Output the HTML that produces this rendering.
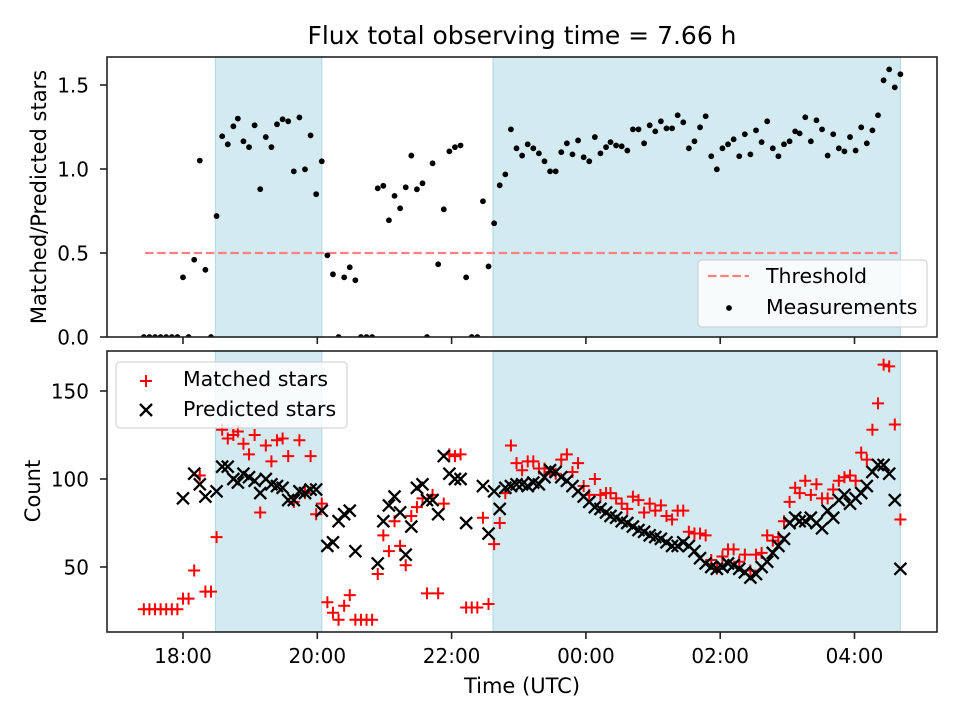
<!DOCTYPE html>
<html><head><meta charset="utf-8"><style>
html,body{margin:0;padding:0;background:#fff;}
svg{display:block;font-family:"DejaVu Sans","Liberation Sans",sans-serif;}
</style></head><body>
<svg id="chart" width="960" height="720" viewBox="0 0 960 720">
</svg>
<script>
// minutes relative to 18:00 UTC
const times=[-35,-30,-25,-20,-15,-10,-5,0,5,10,15,20,25,30,35,40,45,49,54,59,64,69,74,79,84,89,94,99,104,109,114,119,124,129,134,139,144,149,154,159,164,169,174,179,184,189,194,199,204,209,214,218,223,228,233,238,243,248,253,258,263,268,273,278,283,288,293,298,303,308,313,318,323,328,333,338,343,348,353,358,363,368,373,378,382,387,392,397,402,407,412,417,422,427,432,437,442,447,452,457,462,467,472,477,482,487,492,497,502,507,512,517,522,527,532,537,542,547,551,556,561,566,571,576,581,586,591,596,601,606,611,616,621,626,631,636,641];
const ratio=[0,0,0,0,0,0,0,.355,0,.46,1.05,.40,0,.72,1.195,1.147,1.254,1.30,1.165,1.13,1.26,.88,1.19,1.13,1.266,1.296,1.284,.986,1.307,.998,1.20,.85,1.046,.486,.373,0,.355,.415,.338,0,0,0,.885,.90,.695,.84,.766,.891,1.08,.879,.915,0,1.034,.433,.76,1.105,1.13,1.14,.355,0,0,.808,.42,.677,.903,.968,1.236,1.123,1.08,1.147,1.123,1.093,1.046,.986,.986,1.10,1.153,1.087,1.17,1.07,1.046,1.19,1.093,1.13,1.16,1.14,1.135,1.11,1.236,1.236,1.153,1.26,1.224,1.284,1.242,1.242,1.32,1.278,1.123,1.165,1.248,1.314,1.076,.998,1.123,1.147,1.177,1.076,1.207,1.087,1.23,1.16,1.284,1.123,1.076,1.147,1.165,1.224,1.212,1.308,1.165,1.29,1.236,1.08,1.207,1.123,1.105,1.19,1.11,1.248,1.153,1.23,1.32,1.528,1.593,1.486,1.564];
const matched=[26,26,26,26,26,26,26,32,32,48,102,36,36,67,128,123,125,127,120,114,125,81,119,110,122,123,113,87,122,92,113,80,86,30,24,20,28,34,20,20,20,20,46,68,59,76,62,51,79,84,89,35,91,35,86,114,113,114,27,27,27,78,29,63,75,92,119,109,105,110,110,106,106,104,103,111,114,104,109,96,91,100,91,92,92,89,86,83,90,88,81,86,82,85,79,77,82,82,70,69,69,68,54,49,56,60,60,53,57,48,57,58,68,65,67,76,87,95,92,99,91,97,89,89,94,99,101,102,99,115,111,128,143,165,164,131,77];
const predicted=[null,null,null,null,null,null,null,89,null,103,97,90,null,93,107,107,100,98,103,101,99,92,100,97,96,95,88,88,93,92,94,94,82,62,64,76,80,82,59,null,null,null,52,76,85,90,81,57,73,95,97,88,88,80,113,103,100,100,75,null,null,96,69,93,83,95,96,97,97,96,98,97,101,105,104,101,99,96,93,90,87,84,83,81,79,78,76,75,73,71,70,68,67,66,64,62,62,64,62,59,55,52,50,49,50,52,51,49,47,44,46,50,53,58,62,66,75,78,76,76,78,75,72,82,78,88,91,86,89,92,96,104,108,108,103,88,49];
const xTicks=[0,120,240,360,480,600];
const xTickLabels=["18:00","20:00","22:00","00:00","02:00","04:00"];
const topTicks=[0,0.5,1.0,1.5];
const topTickLabels=["0.0","0.5","1.0","1.5"];
const botTicks=[50,100,150];
const botTickLabels=["50","100","150"];
const spanStarts=[29,277];
const spanEnds=[124,641];
const threshold=[0.5];
const thrStart=[-34], thrEnd=[641];

const NS="http://www.w3.org/2000/svg";
const svg=document.getElementById('chart');
function mk(tag,attrs,parent){const e=document.createElementNS(NS,tag);for(const k in attrs)e.setAttribute(k,attrs[k]);(parent||svg).appendChild(e);return e;}
const L=107,R=937,T1=57,B1=337,T2=351,B2=632;
const pxPerMin=67.15/60, x0=183;
function X(m){return x0+m*pxPerMin;}
function Y1(v){return 337-v*168;}
function Y2(v){return 479-(v-100)*1.76;}
const TF=20, TL=7;

let t=mk('text',{x:522,y:44,'text-anchor':'middle','font-size':25,fill:'#000'});
t.textContent='Flux total observing time = 7.66 h';



function panel(top,bot,name){
  const g=mk('g',{});
  
  
  const cp=mk('clipPath',{id:'cp-'+name},g);
  mk('rect',{x:L,y:top,width:R-L,height:bot-top},cp);
  for(let i=0;i<spanStarts.length;i++){
    const r=mk('rect',{x:X(spanStarts[i]),y:top,width:X(spanEnds[i])-X(spanStarts[i]),height:bot-top,fill:'#d4eaf1',stroke:'#b7dbe7','stroke-width':1.2},g);
    
    
  }
  return g;
}
function frame(top,bot,g){
  mk('rect',{x:L,y:top,width:R-L,height:bot-top,fill:'none',stroke:'#222','stroke-width':1.6},g);
}
function xAxis(bot,labels,g){
  xTicks.forEach((m,i)=>{
    mk('line',{x1:X(m),x2:X(m),y1:bot,y2:bot+TL,stroke:'#222','stroke-width':1.6},g);
    if(labels){const tx=mk('text',{x:X(m),y:bot+31,'text-anchor':'middle','font-size':TF},g);tx.textContent=xTickLabels[i];
      
      }
  });
}
// TOP
const g1=panel(T1,B1,'ratio-panel');
const thr=mk('line',{x1:X(thrStart[0]),x2:X(thrEnd[0]),y1:Y1(threshold[0]),y2:Y1(threshold[0]),stroke:'#ff8080','stroke-width':2.3,'stroke-dasharray':'8.5,3.7'},g1);


const dots=mk('g',{'clip-path':'url(#cp-ratio-panel)'},g1);
times.forEach((m,i)=>{
  const c=mk('circle',{cx:X(m),cy:Y1(ratio[i]),r:2.9,fill:'#000'},dots);
  
  
});
frame(T1,B1,g1);
xAxis(B1,false,g1);
topTicks.forEach((v,i)=>{
  mk('line',{x1:L-TL,x2:L,y1:Y1(v),y2:Y1(v),stroke:'#222','stroke-width':1.6},g1);
  const tx=mk('text',{x:L-18,y:Y1(v)+7.5,'text-anchor':'end','font-size':TF},g1);tx.textContent=topTickLabels[i];
  
  
});
let yl=mk('text',{x:0,y:0,'text-anchor':'middle','font-size':21,transform:'translate(46,197) rotate(-90)'});
yl.textContent='Matched/Predicted stars';


const lg1=mk('g',{});


mk('rect',{x:698,y:260,width:229,height:67,rx:4,fill:'#fff','fill-opacity':0.8,stroke:'#ccc','stroke-width':1},lg1);
mk('line',{x1:708,x2:749,y1:276,y2:276,stroke:'#ff8080','stroke-width':2.3,'stroke-dasharray':'8.5,3.7'},lg1);
let lt=mk('text',{x:766,y:283,'font-size':20.5},lg1);lt.textContent='Threshold';
mk('circle',{cx:729,cy:308,r:2.9,fill:'#000'},lg1);
lt=mk('text',{x:766,y:314,'font-size':20.5},lg1);lt.textContent='Measurements';

// BOTTOM
const g2=panel(T2,B2,'count-panel');
const marks=mk('g',{'clip-path':'url(#cp-count-panel)'},g2);
times.forEach((m,i)=>{
  const x=X(m),y=Y2(matched[i]);
  const p=mk('path',{d:`M${x-6},${y}H${x+6}M${x},${y-6}V${y+6}`,stroke:'#ff0000','stroke-width':2,fill:'none'},marks);
  
  
});
times.forEach((m,i)=>{
  if(predicted[i]==null)return;
  const x=X(m),y=Y2(predicted[i]),s=6;
  const p=mk('path',{d:`M${x-s},${y-s}L${x+s},${y+s}M${x-s},${y+s}L${x+s},${y-s}`,stroke:'#000','stroke-width':2.3,fill:'none'},marks);
  
  
});
frame(T2,B2,g2);
xAxis(B2,true,g2);
botTicks.forEach((v,i)=>{
  mk('line',{x1:L-TL,x2:L,y1:Y2(v),y2:Y2(v),stroke:'#222','stroke-width':1.6},g2);
  const tx=mk('text',{x:L-18,y:Y2(v)+7.5,'text-anchor':'end','font-size':TF},g2);tx.textContent=botTickLabels[i];
  
  
});
yl=mk('text',{x:0,y:0,'text-anchor':'middle','font-size':21,transform:'translate(40,491) rotate(-90)'});
yl.textContent='Count';


const xl=mk('text',{x:522,y:693,'text-anchor':'middle','font-size':21});
xl.textContent='Time (UTC)';


const lg2=mk('g',{});


mk('rect',{x:116,y:362,width:231,height:66,rx:4,fill:'#fff','fill-opacity':0.8,stroke:'#ccc','stroke-width':1},lg2);
mk('path',{d:'M140,381H152M146,375V387',stroke:'#ff0000','stroke-width':2},lg2);
lt=mk('text',{x:183,y:386,'font-size':20.5},lg2);lt.textContent='Matched stars';
mk('path',{d:'M140,404L152,416M140,416L152,404',stroke:'#000','stroke-width':2.3},lg2);
lt=mk('text',{x:183,y:416,'font-size':20.5},lg2);lt.textContent='Predicted stars';
</script>
</body></html>
